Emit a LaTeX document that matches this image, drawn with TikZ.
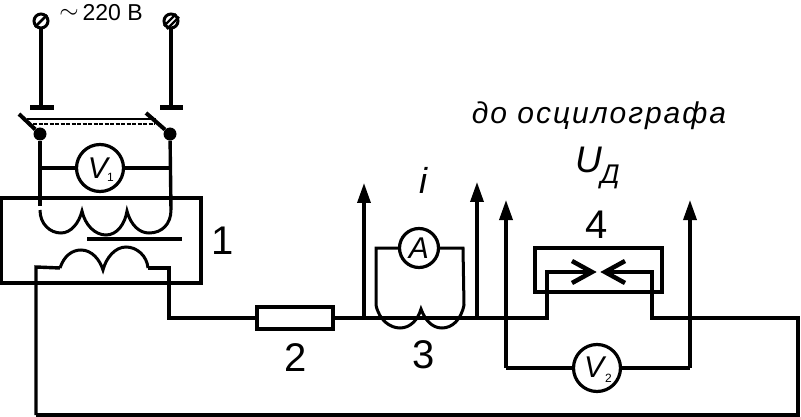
\documentclass[tikz,border=0pt]{standalone}
\usepackage{fontspec}
\setmainfont{Liberation Sans}
\usetikzlibrary{arrows.meta,calc}
\tikzset{
  wire/.style={line width=3.4pt,line join=miter,line cap=butt},
  thin wire/.style={line width=3pt},
  arrowwire/.style={wire,-{Triangle[length=20pt,width=13pt]}},
  meter/.style={circle,draw,line width=3.2pt,fill=white,inner sep=0pt,minimum size=#1},
  lab/.style={font=\fontsize{40}{40}\selectfont,inner sep=0pt},
  terminal/.style={circle,draw,line width=3pt,fill=white,inner sep=0pt,minimum size=14pt},
  dotnode/.style={circle,fill=black,inner sep=0pt,minimum size=13pt},
  resistor/.style={draw,line width=3.6pt,fill=white,inner sep=0pt,minimum width=76pt,minimum height=22pt}
}
\begin{document}
\begin{tikzpicture}[x=1pt,y=-1pt]
\useasboundingbox (0,0) rectangle (801,417);
% named points
\coordinate (tbarL1) at (30,108); \coordinate (tbarL2) at (54,108); \coordinate (tbarLc) at (41,108);
\coordinate (tbarR1) at (160,108); \coordinate (tbarR2) at (183,108); \coordinate (tbarRc) at (171,108);
\coordinate (bladeL) at (19,114); \coordinate (bladeR) at (146,113);
\coordinate (pL) at (40,210); \coordinate (pR) at (171,210);
\coordinate (p1) at (82,211); \coordinate (p2) at (127,211);
\coordinate (s0) at (36,267); \coordinate (s1) at (60,268); \coordinate (s2) at (103,270);
\coordinate (s3) at (148,268); \coordinate (s4) at (169,268); \coordinate (s5) at (169,318);
\coordinate (b1) at (36,415); \coordinate (b2) at (798,415); \coordinate (b3) at (798,318);
\coordinate (j1) at (364,318); \coordinate (j2) at (477,318);
\coordinate (j3) at (506,318); \coordinate (j4) at (547,318); \coordinate (j5) at (652,318);
\coordinate (up1) at (364,183); \coordinate (up2) at (477,182);
\coordinate (up3) at (506,200); \coordinate (up4) at (690,200);
\coordinate (tipL) at (592,272); \coordinate (tipR) at (605,272);
\coordinate (c4L) at (547,272); \coordinate (c4R) at (652,272);

% transformer box and core
\draw[wire] (1,198) rectangle (201,283);
\draw[wire] (87,239) -- (182,239);

% source terminals and switches
\node[terminal] (tL) at (41,21) {};
\node[terminal] (tR) at (171,21) {};
\draw[line width=2.6pt] (tL.south west) -- (tL.north east);
\draw[line width=2.4pt] ($(tR.south west)+(-1,-1)$) -- ($(tR.north east)+(-1,-1)$);
\draw[line width=2.4pt] ($(tR.south west)+(2,2)$) -- ($(tR.north east)+(2,2)$);
\draw[wire] (tL) -- (tbarLc);
\draw[wire] (tR) -- (tbarRc);
\draw[line width=5pt] (tbarL1) -- (tbarL2);
\draw[line width=5pt] (tbarR1) -- (tbarR2);
\node[dotnode] (swL) at (40,134) {};
\node[dotnode] (swR) at (170,134) {};
\draw[line width=4pt] (bladeL) -- (swL);
\draw[line width=4pt] (bladeR) -- (swR);
\draw[line width=1.2pt] (27,119) -- (156,119);
\draw[line width=1.2pt,dash pattern=on 4pt off 1.5pt] (33,124) -- (155,124);

% primary winding
\draw[wire] (swL) -- (40,206);
\draw[wire] (swR) -- (pR);
\draw[thin wire] (pL) .. controls (40,224) and (50,233) .. (61,233) .. controls (71,233) and (79,223) .. (p1)
  .. controls (85,225) and (95,235) .. (106,235) .. controls (117,235) and (125,224) .. (p2)
  .. controls (131,226) and (140,233) .. (149,233) .. controls (162,233) and (171,224) .. (pR);
\node[meter=47pt] (V1) at (100,168) {};
\node[inner sep=0pt,font=\fontsize{30}{30}\selectfont\itshape] at (98,168) {V};
\node[inner sep=0pt,font=\fontsize{12}{12}\selectfont] at (110.5,177) {1};
\draw[wire] (40,168) -- (V1);
\draw[wire] (V1) -- (171,168);

% secondary winding and main circuit
\draw[wire] (b1) -- (s0) -- (s1);
\draw[thin wire] (s1) .. controls (64,256) and (72,250) .. (81,250) .. controls (92,250) and (100,260) .. (s2)
  .. controls (106,258) and (115,247) .. (126,247) .. controls (137,247) and (147,256) .. (s3);
\draw[wire] (s3) -- (s4) -- (s5) -- (255,318);
\node[resistor] (R) at (295,318) {};
\draw[wire] (R) -- (j1) -- (j2) -- (j3) -- (j4) -- (c4L) -- (tipL);
\draw[wire] (b1) -- (b2) -- (b3) -- (j5) -- (c4R) -- (tipR);

% probes
\draw[arrowwire] (j1) -- (up1);
\draw[arrowwire] (j2) -- (up2);

% shunt loop with ammeter
\node[meter=39pt] (A) at (419,248) {};
\node[inner sep=0pt,font=\fontsize{30}{30}\selectfont\itshape] at (419,248) {A};
\draw[thin wire] (A) -- (376,248) -- (376,305) .. controls (379,320) and (390,328) .. (400,328)
  .. controls (410,328) and (418,320) .. (421,309)
  .. controls (425,320) and (432,328) .. (442,328) .. controls (452,328) and (461,320) .. (464,305)
  -- (463,248) -- (A);

% device 4
\draw[wire] (535,248) rectangle (662,292);
\draw[line width=4.5pt] (572,261) -- (tipL) -- (572,283);
\draw[line width=4.5pt] (625,261) -- (tipR) -- (625,283);

% oscilloscope leads and V2
\node[meter=47pt] (V2) at (597,368) {};
\node[inner sep=0pt,font=\fontsize{30}{30}\selectfont\itshape] at (594,367) {V};
\node[inner sep=0pt,font=\fontsize{12}{12}\selectfont] at (608.5,378) {2};
\draw[wire] (V2) -- (506,368);
\draw[arrowwire] (506,368) -- (up3);
\draw[wire] (V2) -- (690,368);
\draw[arrowwire] (690,368) -- (up4);

% labels
\node[inner sep=0pt,font=\fontsize{23}{23}\selectfont] (volt) at (101,13) {\raisebox{2pt}{$\sim$}\,220 В};
\node[lab] (n1) at (223,241) {1};
\node[lab] (n2) at (296,358) {2};
\node[lab] (n3) at (424,355) {3};
\node[lab] (n4) at (597,225) {4};
\node[inner sep=0pt,font=\fontsize{36}{36}\selectfont\itshape] (li) at (423,180) {i};
\node[inner sep=0pt,font=\fontsize{30}{30}\selectfont\itshape,anchor=base] (osc) at (599,124) {\addfontfeature{LetterSpace=6.5}до осцилографа};
\node[inner sep=0pt,font=\fontsize{37}{37}\selectfont\itshape,anchor=base] (U) at (589,173) {U};
\node[inner sep=0pt,font=\fontsize{27}{27}\selectfont\itshape,anchor=base] (D) at (610,184) {Д};
\end{tikzpicture}
\end{document}
